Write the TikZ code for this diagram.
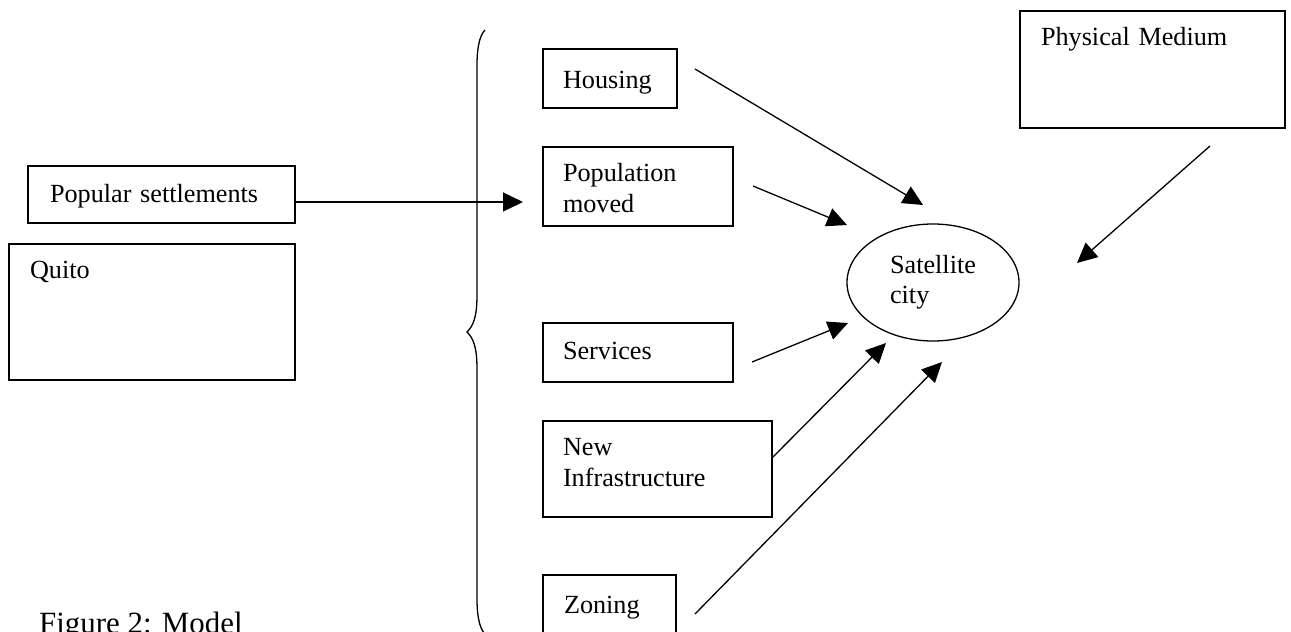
\documentclass[tikz,border=0pt]{standalone}
\usepackage{fontspec}
\setmainfont{Liberation Serif}
\usetikzlibrary{arrows.meta,shapes.geometric}
\newcommand{\myfs}[2]{\fontsize{#1}{#2}\selectfont}
\newcommand{\topstrut}[1]{\rule{0pt}{#1}}
\newcommand{\botstrut}[1]{\rule[-#1]{0pt}{#1}}
\begin{document}
\begin{tikzpicture}[x=1pt,y=-1pt,
  box/.style={draw, line width=1.3pt, anchor=north west, inner ysep=0pt, outer sep=0pt, align=left, font=\myfs{26.2}{31}},
  arr/.style={line width=1.3pt, -{Triangle[length=20pt,width=19pt]}},
  brace/.style={line width=1.3pt}
]
\useasboundingbox (0,0) rectangle (1291,632);
\clip (0,0) rectangle (1291,632);
\fill[white] (0,0) rectangle (1291,632);

% boxes
\node[box, inner xsep=22pt, text width=223pt] (ps) at (28,166) {\topstrut{36pt}Popular settlements\botstrut{21pt}};
\node[box, inner xsep=21pt, text width=244pt] (quito) at (9,244) {\topstrut{34pt}Quito\botstrut{102pt}};
\node[box, inner xsep=20pt, text width=94pt] (housing) at (543,49) {\topstrut{39pt}Housing\botstrut{20pt}};
\node[box, inner xsep=20pt, text width=150pt] (pop) at (543,147) {\topstrut{34pt}Population\\moved\botstrut{14pt}};
\node[box, inner xsep=20pt, text width=150pt] (serv) at (543,323) {\topstrut{36pt}Services\botstrut{23pt}};
\node[box, inner xsep=20pt, text width=189pt] (infra) at (543,421) {\topstrut{34pt}New\\Infrastructure\botstrut{31pt}};
\node[box, inner xsep=21pt, text width=91pt] (zoning) at (543,575) {\topstrut{38pt}Zoning\botstrut{40pt}};
\node[box, inner xsep=21pt, text width=223pt] (phys) at (1020,11) {\topstrut{34pt}Physical Medium\botstrut{83pt}};

% ellipse
\node[draw, ellipse, line width=1.3pt, inner sep=0pt, minimum width=172pt, minimum height=117pt,
      align=left, font=\myfs{26.2}{30}] (sat) at (933,282.5) {Satellite\\city};

% caption
\node[anchor=base west, inner sep=0pt, font=\myfs{30.9}{36}] (cap) at (39,633) {Figure 2: Model};

% brace
\draw[brace] (485,30) .. controls (479,36) and (477,50) .. (477,65) -- (477,295)
  .. controls (477,318) and (473,326) .. (467,332)
  .. controls (473,338) and (477,346) .. (477,369) -- (477,599)
  .. controls (477,614) and (479,628) .. (485,634);

% arrow end points
\coordinate (popin) at (523,202);
\coordinate (hT) at (695,69);   \coordinate (hH) at (923,205);
\coordinate (pT) at (753,186);  \coordinate (pH) at (847,225);
\coordinate (sT) at (752,362);  \coordinate (sH) at (848,323);
\coordinate (iT) at (772,458);  \coordinate (iH) at (886,343);
\coordinate (zT) at (695,614);  \coordinate (zH) at (942,362);
\coordinate (mT) at (1210,146); \coordinate (mH) at (1077,263);

\draw[arr] (ps.east |- popin) -- (popin);
\draw[arr] (hT) -- (hH);
\draw[arr] (pT) -- (pH);
\draw[arr] (sT) -- (sH);
\draw[arr] (infra.east |- iT) -- (iH);
\draw[arr] (zT) -- (zH);
\draw[arr] (mT) -- (mH);
\end{tikzpicture}
\end{document}
